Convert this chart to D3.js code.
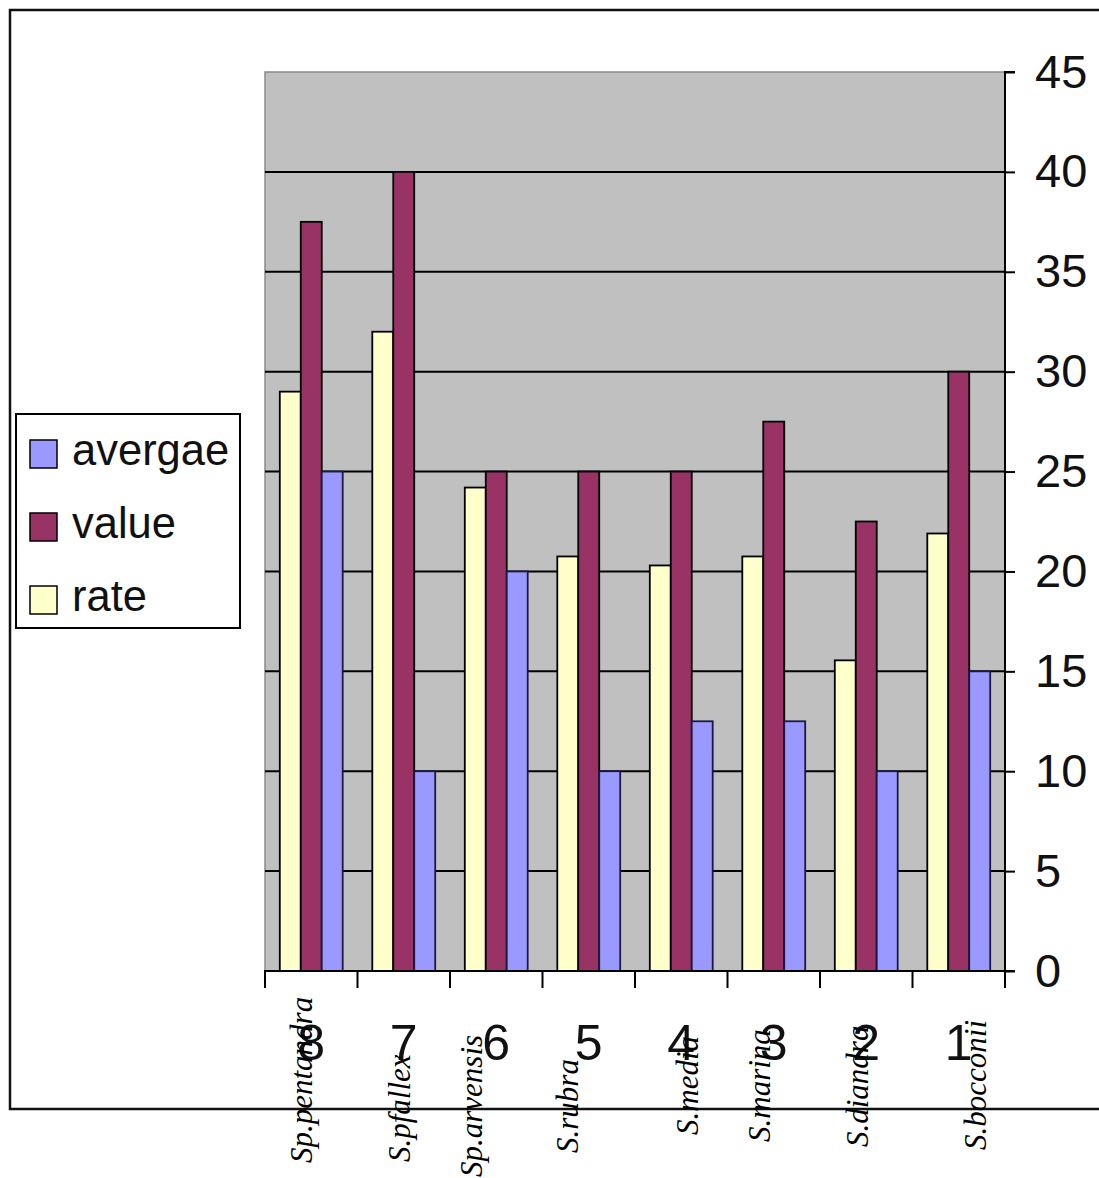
<!DOCTYPE html>
<html>
<head>
<meta charset="utf-8">
<script src="https://cdn.jsdelivr.net/npm/d3@7"></script>
<style>
  html, body { margin: 0; padding: 0; background: #fff; }
  svg { display: block; }
</style>
</head>
<body>
<svg id="chart" width="1099" height="1178"></svg>
<script>
// Category numbers along the bottom, left to right
const categories = ["8", "7", "6", "5", "4", "3", "2", "1"];
// Species names written beneath each category
const species = ["Sp.pentandra", "S.pfallex", "Sp.arvensis", "S.rubra", "S.media", "S.marina", "S.diandra", "S.bocconii"];
// Series values per category
const rate    = [29, 32, 24.2, 20.75, 20.3, 20.75, 15.55, 21.9];
const value   = [37.5, 40, 25, 25, 25, 27.5, 22.5, 30];
const avergae = [25, 10, 20, 10, 12.5, 12.5, 10, 15];
// Y axis ticks
const yTicks = [0, 5, 10, 15, 20, 25, 30, 35, 40, 45];

// Series order inside each group, and legend order
const seriesOrder = ["rate", "value", "avergae"];
const legendOrder = ["avergae", "value", "rate"];
const seriesData = { rate, value, avergae };
const colors = { avergae: "#9999ff", value: "#993366", rate: "#ffffcc" };

// Hand placement of the rotated species names: [x offset from group centre, bottom y]
const speciesPlacement = [[1, 1163], [6, 1162], [-14, 1177], [-11, 1153], [17, 1135], [-4, 1142], [2, 1147], [27, 1150]];

const svg = d3.select("#chart");
const plot = { left: 265, right: 1005, top: 72, bottom: 971 };

const x0 = d3.scaleBand().domain(categories)
  .range([plot.left, plot.right]).paddingInner(0.32).paddingOuter(0.16);
const x1 = d3.scaleBand().domain(seriesOrder).range([0, x0.bandwidth()]);
const y = d3.scaleLinear().domain([0, 45]).range([plot.bottom, plot.top]);

// Outer frame
svg.append("rect").attr("x", 10).attr("y", 10).attr("width", 1200).attr("height", 1099)
  .attr("fill", "none").attr("stroke", "#111").attr("stroke-width", 2.5);

// Plot background
svg.append("rect").attr("x", plot.left).attr("y", plot.top)
  .attr("width", plot.right - plot.left).attr("height", plot.bottom - plot.top)
  .attr("fill", "#c0c0c0").attr("stroke", "#8a8a8a").attr("stroke-width", 1.5);

// Horizontal gridlines
svg.append("g").selectAll("line").data(yTicks.filter(t => t > 0 && t < 45)).join("line")
  .attr("x1", plot.left).attr("x2", plot.right)
  .attr("y1", d => y(d)).attr("y2", d => y(d))
  .attr("stroke", "#000").attr("stroke-width", 2);

// Bars
const groups = svg.append("g").selectAll("g").data(categories).join("g")
  .attr("transform", d => `translate(${x0(d)},0)`);
groups.selectAll("rect")
  .data((d, i) => seriesOrder.map(s => ({ s, v: seriesData[s][i] })))
  .join("rect")
  .attr("x", d => x1(d.s))
  .attr("y", d => y(d.v))
  .attr("width", x1.bandwidth())
  .attr("height", d => y(0) - y(d.v))
  .attr("fill", d => colors[d.s])
  .attr("stroke", d => d.s === "avergae" ? "#1a1a40" : "#000")
  .attr("stroke-width", 1.8);

// Right-hand value axis
const yAxis = d3.axisRight(y).tickValues(yTicks).tickSize(10).tickPadding(20).tickFormat(d3.format("d"));
const gy = svg.append("g").attr("transform", `translate(${plot.right},0)`).call(yAxis);
gy.select(".domain").attr("stroke", "#000").attr("stroke-width", 2).attr("d", `M10,${plot.top}H0V${plot.bottom}H10`);
gy.selectAll(".tick line").attr("stroke", "#000").attr("stroke-width", 2);
gy.selectAll(".tick text")
  .attr("fill", "#111")
  .style("font-family", "'Liberation Sans', Arial, sans-serif")
  .style("font-size", "47px");

// Category axis along the bottom
const boundaries = d3.range(categories.length + 1).map(i => plot.left + i * x0.step());
const gx = svg.append("g");
gx.append("line").attr("x1", plot.left - 1).attr("x2", plot.right)
  .attr("y1", plot.bottom).attr("y2", plot.bottom)
  .attr("stroke", "#000").attr("stroke-width", 2);
gx.selectAll("line.tick").data(boundaries).join("line").attr("class", "tick")
  .attr("x1", d => d).attr("x2", d => d)
  .attr("y1", plot.bottom).attr("y2", plot.bottom + 17)
  .attr("stroke", "#000").attr("stroke-width", 2);
gx.selectAll("text").data(categories).join("text")
  .attr("x", d => x0(d) + x0.bandwidth() / 2)
  .attr("y", 1060)
  .attr("text-anchor", "middle")
  .attr("fill", "#111")
  .style("font-family", "'Liberation Sans', Arial, sans-serif")
  .style("font-size", "50px")
  .text(d => d);

// Rotated species names
svg.append("g").selectAll("text").data(species).join("text")
  .attr("transform", (d, i) => {
    const cx = x0(categories[i]) + x0.bandwidth() / 2 + speciesPlacement[i][0];
    return `translate(${cx},${speciesPlacement[i][1]}) rotate(-90)`;
  })
  .attr("fill", "#000")
  .style("font-family", "'Liberation Serif', 'Times New Roman', serif")
  .style("font-style", "italic")
  .style("font-size", "31px")
  .text(d => d);

// Legend
const legend = svg.append("g");
legend.append("rect").attr("x", 16).attr("y", 414).attr("width", 224).attr("height", 214)
  .attr("fill", "#fff").attr("stroke", "#000").attr("stroke-width", 2);
const items = legend.selectAll("g").data(legendOrder).join("g")
  .attr("transform", (d, i) => `translate(30,${440 + i * 73})`);
items.append("rect").attr("width", 27).attr("height", 28)
  .attr("fill", d => colors[d]).attr("stroke", "#000").attr("stroke-width", 1.5);
items.append("text").attr("x", 42).attr("y", 25)
  .attr("fill", "#111")
  .style("font-family", "'Liberation Sans', Arial, sans-serif")
  .style("font-size", "43.5px")
  .text(d => d);
</script>
</body>
</html>
